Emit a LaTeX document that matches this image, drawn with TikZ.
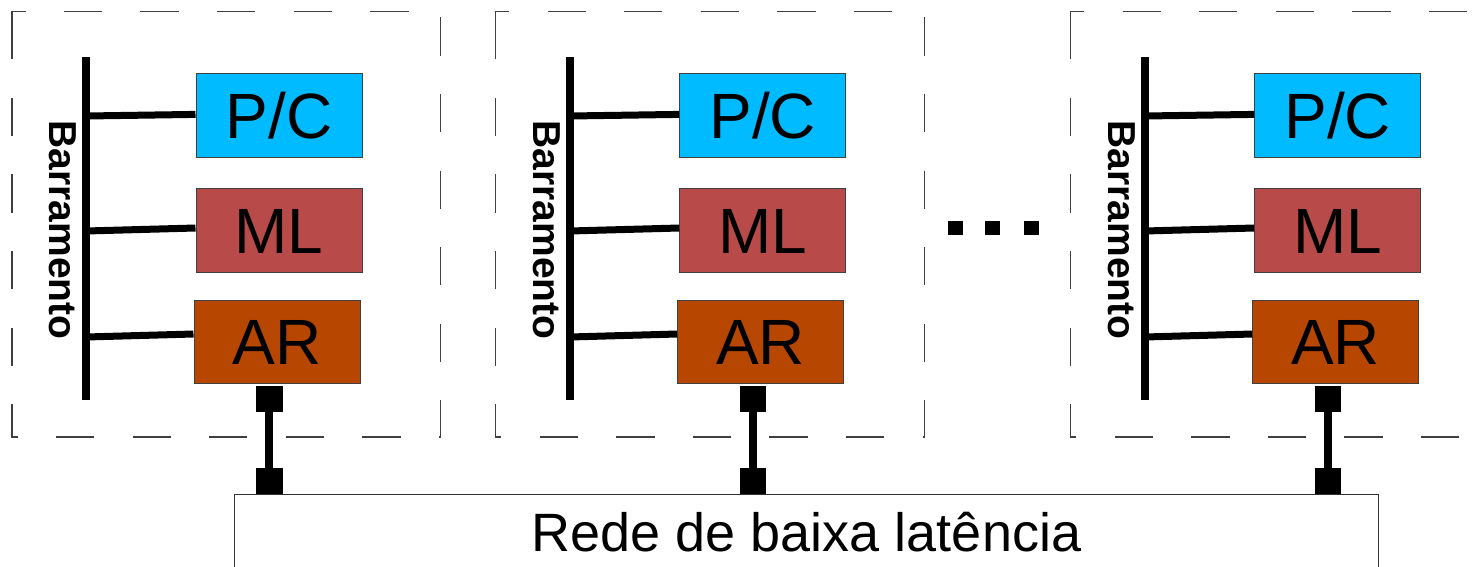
\documentclass[tikz,border=0pt]{standalone}
\usepackage{fontspec}
\setmainfont{Liberation Sans}
\usepackage{tikz}
\usetikzlibrary{calc}

\definecolor{cianoPC}{RGB}{0,187,255}
\definecolor{vermelhoML}{RGB}{185,74,74}
\definecolor{laranjaAR}{RGB}{183,71,0}

\begin{document}
\begin{tikzpicture}[x=1pt,y=-1pt,
		moldura/.style={draw=black!75, line width=1.4pt, dash pattern=on 38.3pt off 38.3pt},
		bloco/.style={draw=black!75, line width=1pt, minimum width=166pt, minimum height=83.4pt, inner sep=0pt, font=\fontsize{64pt}{64pt}\selectfont, text height=45.8pt, text depth=0pt},
		barra/.style={fill=black, inner sep=0pt, minimum width=8pt, minimum height=342.6pt},
		rotulo/.style={font=\bfseries\fontsize{39pt}{39pt}\selectfont, text height=28pt, text depth=0pt, inner sep=0pt, rotate=-90},
		haste/.style={line width=7pt},
		porta/.style={fill=black, inner sep=0pt, minimum width=26.7pt, minimum height=26pt},
		elo/.style={line width=8pt},
		ponto/.style={fill=black, inner sep=0pt, minimum width=15pt, minimum height=14.5pt},
		rede/.style={draw=black!80, line width=1.3pt, minimum width=1143.6pt, minimum height=74.4pt, inner sep=0pt, font=\fontsize{54pt}{54pt}\selectfont, text height=38.7pt, text depth=0pt}]
		
		\useasboundingbox (0,0) rectangle (1483,566);
		\clip (0,0) rectangle (1483,566);
		
		\def\modulo#1#2{% Syntax: \modulo{suffix}{x of left edge}
			\begin{scope}[shift={(#2,11.2)}]
				\draw[moldura] (0,24.8) -- (0,0) -- (428.7,0) -- (428.7,425.6) -- (0,425.6) -- cycle;
				\node[barra] (bus#1) at (74,217.1) {};
				\node[rotulo] (lbl#1) at (51.8,218.8) {Barramento};
				\node[bloco, fill=cianoPC] (pc#1) at (267,104.1) {P/C};
				\node[bloco, fill=vermelhoML] (ml#1) at (267,219.1) {ML};
				\node[bloco, fill=laranjaAR] (ar#1) at (265,330.5) {AR};
				\draw[haste] ($(bus#1 |- pc#1.west)+(0,0.7)$) -- ($(pc#1.west)+(0,-0.9)$);
				\draw[haste] ($(bus#1 |- ml#1.west)+(0,0.7)$) -- ($(ml#1.west)+(0,-2.3)$);
				\draw[haste] ($(bus#1 |- ar#1.west)+(0,-4.7)$) -- ($(ar#1.west)+(0,-7.7)$);
				\node[porta] (pa#1) at (257.3,387.6) {};
				\node[porta] (pb#1) at (257.3,470.1) {};
				\draw[elo] (pa#1) -- (pb#1);
			\end{scope}}
		
		\modulo{1}{12}
		\modulo{2}{495.7}
		\modulo{3}{1070.7}
		
		\node[ponto] (d1) at (955.4,228.2) {};
		\node[ponto] (d2) at (992.8,228.2) {};
		\node[ponto] (d3) at (1031.4,228.2) {};
		
		\node[rede] (rede) at (806.5,531.8) {Rede de baixa latência};
	\end{tikzpicture}
\end{document}
